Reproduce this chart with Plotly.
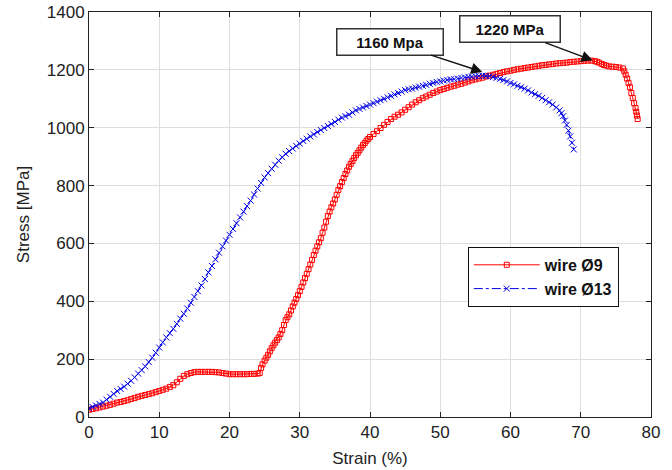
import plotly.graph_objects as go

# Wire Ø9 (red) — strain (%) and stress (MPa)
red_strain = [0, 0.5, 1, 1.5, 2, 2.5, 3, 3.5, 4, 4.5, 5, 5.5, 6, 6.5, 7, 7.5, 8, 8.5, 9, 9.5,
              10, 10.5, 11, 11.5, 12, 12.5, 13, 13.5, 14, 14.5, 15, 15.5, 16, 16.5, 17, 17.5,
              18, 18.5, 19, 19.5, 20, 20.5, 21, 21.5, 22, 22.5, 23, 23.5, 24, 24.3, 24.5, 24.7,
              25, 25.25, 25.5, 25.75, 26, 26.25, 26.5, 26.75, 27, 27.25, 27.5, 27.75, 28, 28.25,
              28.5, 28.75, 29, 29.25, 29.5, 29.75, 30, 30.25, 30.5, 30.75, 31, 31.25, 31.5, 31.75,
              32, 32.25, 32.5, 32.75, 33, 33.25, 33.5, 33.75, 34, 34.25, 34.5, 34.75, 35, 35.25,
              35.5, 35.75, 36, 36.25, 36.5, 36.75, 37, 37.25, 37.5, 37.75, 38, 38.25, 38.5, 38.75,
              39, 39.25, 39.5, 39.75, 40, 40.5, 41, 41.5, 42, 42.5, 43, 43.5, 44, 44.5, 45, 45.5,
              46, 46.5, 47, 47.5, 48, 48.5, 49, 49.5, 50, 50.5, 51, 51.5, 52, 52.5, 53, 53.5,
              54, 54.5, 55, 55.5, 56, 56.5, 57, 57.5, 58, 58.5, 59, 59.5, 60, 60.5, 61, 61.5,
              62, 62.5, 63, 63.5, 64, 64.5, 65, 65.5, 66, 66.5, 67, 67.5, 68, 68.5, 69, 69.5,
              70, 70.5, 71, 71.5, 72, 72.3, 72.6, 73, 73.3, 73.6, 74, 74.5, 75, 75.5, 76, 76.2,
              76.4, 76.6, 76.8, 77, 77.2, 77.4, 77.6, 77.8, 77.9, 78, 78.1]
red_stress = [25, 28, 30, 33, 36, 39, 42, 46, 50, 52, 55, 58, 62, 66, 70, 73, 76, 79, 82, 86,
              90, 94, 98, 104, 110, 120, 132, 142, 148, 152, 155, 156, 156, 156, 156, 156,
              155, 154, 152, 150, 148, 148, 148, 148, 148, 148, 149, 149, 150, 152, 170, 182,
              195, 205, 215, 227, 238, 248, 257, 266, 275, 287, 300, 318, 335, 345,
              355, 368, 382, 395, 408, 421, 435, 450, 465, 480, 495, 511, 527, 543,
              560, 575, 590, 604, 618, 637, 655, 675, 695, 710, 725, 738, 752, 768,
              785, 798, 812, 826, 840, 852, 865, 875, 885, 895, 905, 913, 922, 931,
              940, 947, 955, 961, 968, 978, 988, 999, 1010, 1020, 1030, 1038, 1045, 1053, 1062, 1071,
              1080, 1088, 1095, 1102, 1108, 1114, 1120, 1125, 1130, 1134, 1138, 1142, 1145, 1149, 1152, 1156,
              1160, 1164, 1167, 1170, 1173, 1177, 1180, 1183, 1186, 1189, 1192, 1195, 1197, 1200, 1202, 1204,
              1206, 1208, 1210, 1212, 1214, 1216, 1217, 1219, 1220, 1222, 1223, 1224, 1225, 1227, 1228, 1229,
              1230, 1231, 1232, 1232, 1230, 1228, 1225, 1220, 1217, 1215, 1212, 1211, 1210, 1208, 1205, 1195,
              1183, 1170, 1155, 1140, 1120, 1103, 1085, 1068, 1055, 1042, 1030]

# Wire Ø13 (blue)
blue_strain = [0, 0.5, 1, 1.5, 2, 2.5, 3, 3.5, 4, 4.5, 5, 5.5, 6, 6.5, 7, 7.5, 8, 8.5, 9, 9.5,
               10, 10.5, 11, 11.5, 12, 12.5, 13, 13.5, 14, 14.5, 15, 15.5, 16, 16.5, 17, 17.5,
               18, 18.5, 19, 19.5, 20, 20.5, 21, 21.5, 22, 22.5, 23, 23.5, 24, 24.5, 25, 25.5,
               26, 26.5, 27, 27.5, 28, 28.5, 29, 29.5, 30, 30.5, 31, 31.5, 32, 32.5, 33, 33.5,
               34, 34.5, 35, 35.5, 36, 36.5, 37, 37.5, 38, 38.5, 39, 39.5, 40, 40.5, 41, 41.5,
               42, 42.5, 43, 43.5, 44, 44.5, 45, 45.5, 46, 46.5, 47, 47.5, 48, 48.5, 49, 49.5,
               50, 50.5, 51, 51.5, 52, 52.5, 53, 53.5, 54, 54.5, 55, 55.5, 56, 56.5, 57, 57.5,
               58, 58.5, 59, 59.5, 60, 60.5, 61, 61.5, 62, 62.5, 63, 63.5, 64, 64.5, 65, 65.5,
               66, 66.5, 67, 67.25, 67.5, 67.75, 68, 68.25, 68.5, 68.75, 69]
blue_stress = [30, 35, 40, 45, 50, 60, 70, 80, 90, 97, 105, 115, 125, 137, 150, 162, 175, 190, 205, 222,
               240, 258, 275, 290, 305, 322, 340, 357, 375, 395, 415, 435, 455, 477, 500, 522,
               545, 568, 590, 610, 630, 650, 670, 690, 710, 729, 748, 769, 790, 809, 828, 843,
               858, 872, 886, 898, 910, 919, 928, 937, 945, 954, 962, 970, 977, 985, 992, 999,
               1006, 1013, 1020, 1028, 1035, 1040, 1045, 1053, 1060, 1065, 1070, 1075, 1080, 1085, 1090, 1095,
               1100, 1105, 1110, 1115, 1120, 1125, 1130, 1133, 1135, 1139, 1142, 1145, 1148, 1152, 1155, 1158,
               1160, 1163, 1165, 1167, 1168, 1170, 1172, 1174, 1176, 1177, 1178, 1179, 1180, 1179, 1178, 1175,
               1172, 1169, 1165, 1160, 1155, 1150, 1145, 1140, 1135, 1129, 1122, 1116, 1110, 1103, 1095, 1088,
               1080, 1070, 1060, 1050, 1040, 1025, 1010, 990, 970, 948, 925]

x_ticks = [0, 10, 20, 30, 40, 50, 60, 70, 80]
y_ticks = [0, 200, 400, 600, 800, 1000, 1200, 1400]

series_names = ["wire Ø9", "wire Ø13"]
ann_texts = ["1220 MPa", "1160 Mpa"]
ann_points = [(71.7, 1233), (56.0, 1193)]

fig = go.Figure()
fig.add_trace(go.Scatter(
    x=red_strain, y=red_stress, name=series_names[0], mode="lines+markers",
    line=dict(color="#ff0000", width=1),
    marker=dict(symbol="square-open", size=5, color="#ff0000", line=dict(width=1)),
))
fig.add_trace(go.Scatter(
    x=blue_strain, y=blue_stress, name=series_names[1], mode="lines+markers",
    line=dict(color="#0000e6", width=1, dash="dashdot"),
    marker=dict(symbol="x-thin-open", size=6, color="#0000e6", line=dict(width=1, color="#0000e6")),
))

font_family = "Liberation Sans, Arial, sans-serif"
for (px, py), txt, ax, ay, w in zip(ann_points, ann_texts, [-83, -92], [-31, -30], [93, 99]):
    fig.add_annotation(
        x=px, y=py, text="<b>%s</b>" % txt, showarrow=True,
        ax=ax, ay=ay, arrowhead=2, arrowsize=1.6, arrowwidth=1.4, arrowcolor="#111111",
        font=dict(family=font_family, size=15, color="#111111"),
        bgcolor="white", bordercolor="#333333", borderwidth=1.5, borderpad=3,
        width=w, height=19,
    )

axis_common = dict(
    showline=True, linecolor="#222222", linewidth=1, mirror="ticks",
    ticks="inside", ticklen=5, tickcolor="#222222",
    showgrid=True, gridcolor="#dedede", gridwidth=1, zeroline=False,
    tickfont=dict(family=font_family, size=17, color="#222222"),
    automargin=True, ticklabeloverflow="allow",
)

fig.update_layout(
    width=672, height=470,
    margin=dict(l=89, r=21, t=12, b=53, autoexpand=False),
    paper_bgcolor="white", plot_bgcolor="white",
    font=dict(family=font_family, color="#222222"),
    xaxis=dict(range=[0, 80], tickvals=x_ticks,
               title=dict(text="Strain (%)", font=dict(size=17), standoff=10), **axis_common),
    yaxis=dict(range=[0, 1400], tickvals=y_ticks,
               title=dict(text="Stress [MPa]", font=dict(size=17), standoff=12), **axis_common),
    legend=dict(x=0.674, y=0.42, xanchor="left", yanchor="top",
                bgcolor="white", bordercolor="#111111", borderwidth=1,
                font=dict(family=font_family, size=16, color="#111111", weight="bold"),
                tracegroupgap=0, itemwidth=66, entrywidth=150, entrywidthmode="pixels"),
    showlegend=True,
)

# remove the page's default 8 px body margin so the figure sits at the window origin
fig.write_html("out.html", config={"displayModeBar": False},
               post_script="document.body.style.margin='0';")
